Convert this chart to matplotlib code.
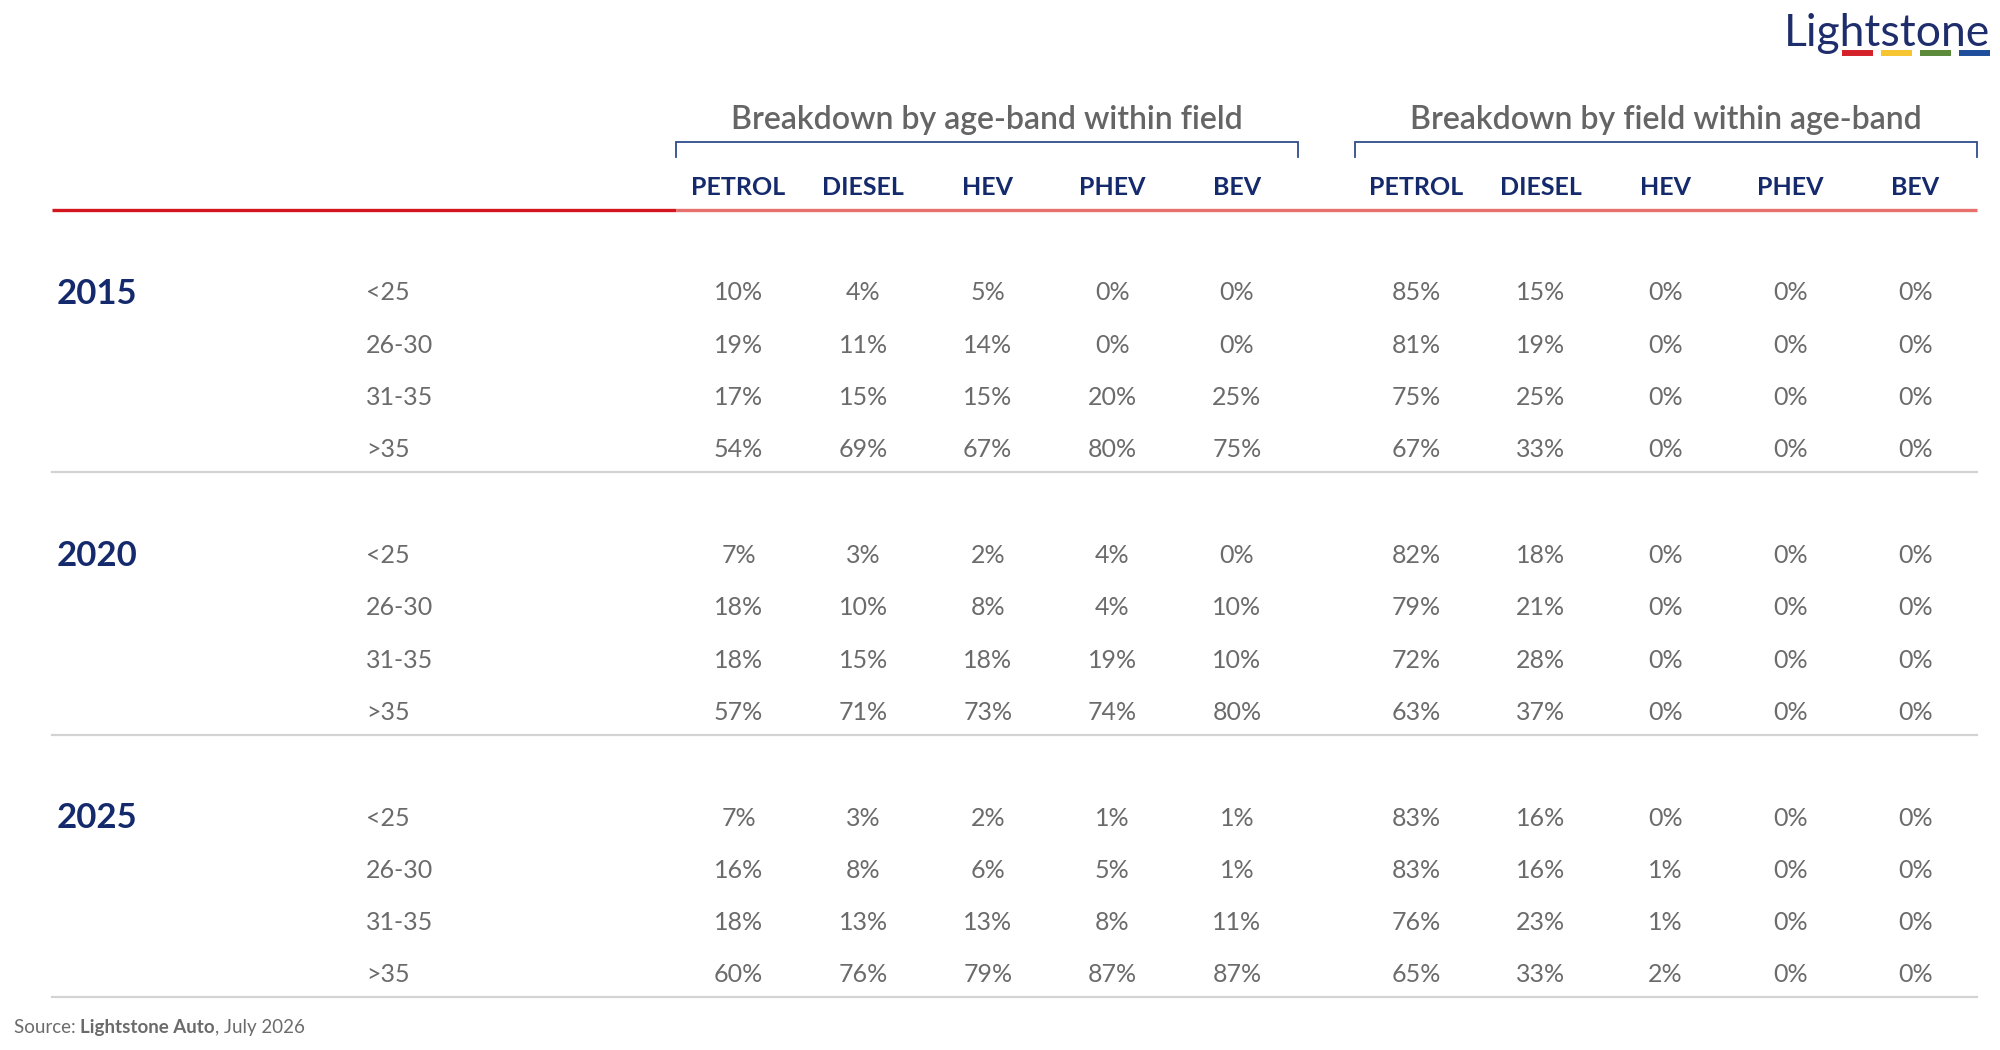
import matplotlib.pyplot as plt
import numpy as np

plt.rcParams['font.family'] = ['Lato', 'DejaVu Sans']

# -------------------------------------------------------
# Dados

anos = ['2015', '2020', '2025']
faixas = ['<25', '26-30', '31-35', '>35']
campos = ['PETROL', 'DIESEL', 'HEV', 'PHEV', 'BEV']
grupos = ['Breakdown by age-band within field', 'Breakdown by field within age-band']

# breakdown by age-band within field (linhas = faixas, colunas = campos)
idade_2015 = [[10, 4, 5, 0, 0], [19, 11, 14, 0, 0], [17, 15, 15, 20, 25], [54, 69, 67, 80, 75]]
idade_2020 = [[7, 3, 2, 4, 0], [18, 10, 8, 4, 10], [18, 15, 18, 19, 10], [57, 71, 73, 74, 80]]
idade_2025 = [[7, 3, 2, 1, 1], [16, 8, 6, 5, 1], [18, 13, 13, 8, 11], [60, 76, 79, 87, 87]]

# breakdown by field within age-band
campo_2015 = [[85, 15, 0, 0, 0], [81, 19, 0, 0, 0], [75, 25, 0, 0, 0], [67, 33, 0, 0, 0]]
campo_2020 = [[82, 18, 0, 0, 0], [79, 21, 0, 0, 0], [72, 28, 0, 0, 0], [63, 37, 0, 0, 0]]
campo_2025 = [[83, 16, 0, 0, 0], [83, 16, 1, 0, 0], [76, 23, 1, 0, 0], [65, 33, 2, 0, 0]]

idade = [idade_2015, idade_2020, idade_2025]
campo = [campo_2015, campo_2020, campo_2025]

logo_cores = ['#d3222a', '#f7c531', '#5a8a3a', '#1f4f9c']

# -------------------------------------------------------
# Layout (em pixels)

azul = '#142a6c'
cinza = '#6b6b6b'

x_col = [np.arange(5) * 124.6 + 738.5, np.arange(5) * 124.8 + 1416]
x_chave = [(676, 1298), (1355, 1977)]
y_linha0 = 291.5
passo_linha = 52.3
passo_bloco = 262.5

figura = plt.figure(figsize=(20, 10.5), dpi=100)
ax = figura.add_axes([0, 0, 1, 1])
ax.set_xlim(0, 2000)
ax.set_ylim(1050, 0)
ax.axis('off')

# cabeçalhos dos grupos + chaves
for g in range(2):
    x0, x1 = x_chave[g]
    ax.text((x0 + x1) / 2, 129, grupos[g], ha='center', va='baseline',
            fontsize=23, fontweight='semibold', color='#656565')
    ax.plot([x0, x0, x1, x1], [157, 142, 142, 157], color='#2d4d8f', lw=1.3,
            solid_joinstyle='miter')
    for i, c in enumerate(campos):
        ax.text(x_col[g][i], 195, c, ha='center', va='baseline',
                fontsize=18, fontweight='bold', color=azul)

# linha vermelha
ax.plot([52, 676], [209.5, 209.5], color='#d3161e', lw=2.4, solid_capstyle='butt')
ax.plot([676, 1977], [209.5, 209.5], color='#e8706c', lw=2.4, solid_capstyle='butt')

# corpo da tabela
for b, ano in enumerate(anos):
    y_base = y_linha0 + b * passo_bloco
    ax.text(57, y_base + 12, ano, ha='left', va='baseline',
            fontsize=25, fontweight='bold', color=azul)
    for r, faixa in enumerate(faixas):
        y = y_base + r * passo_linha + 9
        ax.text(366, y, faixa, ha='left', va='baseline', fontsize=18, color=cinza)
        for g, tabela in enumerate([idade[b], campo[b]]):
            for i in range(5):
                ax.text(x_col[g][i], y, str(tabela[r][i]) + '%', ha='center',
                        va='baseline', fontsize=18, color=cinza)
    y_sep = y_base + 3 * passo_linha + 24
    ax.plot([52, 1977], [y_sep, y_sep], color='#d3d3d3', lw=1.6)

# fonte
renderer = figura.canvas.get_renderer()
x = 14
for parte, peso in [('Source: ', 'normal'), ('Lightstone Auto', 'bold'), (', July 2026', 'normal')]:
    t = ax.text(x, 1033, parte, ha='left', va='baseline', fontsize=13.5,
                fontweight=peso, color=cinza)
    x += t.get_window_extent(renderer).width

# logo
ax.text(1990, 46, 'Lightstone', ha='right', va='baseline', fontsize=32, color='#1e2d6b')
for i, cor in enumerate(logo_cores):
    ax.plot([1842 + i * 39, 1873 + i * 39], [53, 53], color=cor, lw=4.3,
            solid_capstyle='butt')

figura.savefig('out.png', dpi=100)
